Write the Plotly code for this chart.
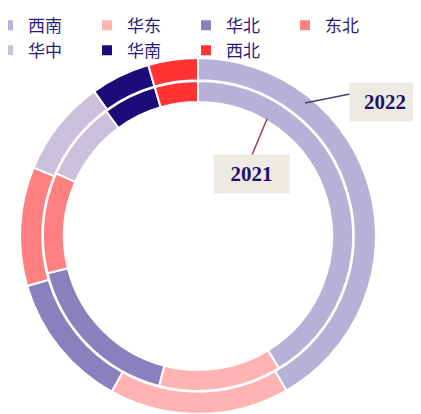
import plotly.graph_objects as go

# The page body adds an 8px margin, so the figure is drawn 8px smaller and
# reference pixel positions are shifted by OFF.
OFF = 8
W, H = 421 - OFF, 414 - OFF

categories = ["西南", "华东", "华北", "东北", "华中", "华南", "西北"]
values_2022 = [41.7, 16.3, 12.4, 10.8, 8.8, 5.4, 4.5]
values_2021 = [41.3, 12.8, 17.1, 10.5, 8.3, 5.6, 4.5]
colors = ["#b7b1d8", "#ffb3b3", "#8a80bd", "#ff8080", "#cac0dc", "#1c0c7a", "#ff3333"]


def px(x):
    return (x - OFF) / W


def py(y):
    return 1 - (y - OFF) / H


cx, cy = 198, 236
r_out, r_in = 178, 155


def dom(r):
    return dict(x=[px(cx - r), px(cx + r)], y=[py(cy + r), min(1, py(cy - r))])


fig = go.Figure()
fig.add_trace(go.Pie(
    labels=categories, values=values_2022, name="2022",
    marker=dict(colors=colors, line=dict(color="white", width=2)),
    hole=0.875, sort=False, direction="clockwise", rotation=0,
    textinfo="none", domain=dom(r_out), showlegend=True,
))
fig.add_trace(go.Pie(
    labels=categories, values=values_2021, name="2021",
    marker=dict(colors=colors, line=dict(color="white", width=2)),
    hole=0.865, sort=False, direction="clockwise", rotation=0,
    textinfo="none", domain=dom(r_in), showlegend=False,
))

fig.add_shape(type="line", xref="paper", yref="paper",
              x0=px(305), y0=py(103), x1=px(350), y1=py(94),
              line=dict(color="#4a3f6b", width=1.5))
fig.add_shape(type="line", xref="paper", yref="paper",
              x0=px(267), y0=py(119), x1=px(252), y1=py(155),
              line=dict(color="#a0404a", width=1.5))

fig.add_annotation(x=px(385), y=py(102), xref="paper", yref="paper",
                   xanchor="center", yanchor="middle",
                   text="<b>2022</b>", showarrow=False, width=68, height=36,
                   bgcolor="#edebe1", borderpad=1,
                   font=dict(family="Liberation Serif", size=21, color="#1f1070"))
fig.add_annotation(x=px(252), y=py(174), xref="paper", yref="paper",
                   xanchor="center", yanchor="middle",
                   text="<b>2021</b>", showarrow=False, width=73, height=36,
                   bgcolor="#edebe1", borderpad=1,
                   font=dict(family="Liberation Serif", size=21, color="#1f1070"))

fig.update_layout(
    width=W, height=H,
    margin=dict(l=0, r=0, t=0, b=0, autoexpand=False),
    paper_bgcolor="white", plot_bgcolor="white",
    legend=dict(orientation="h", x=-20 / W, y=1.001, xanchor="left", yanchor="top",
                entrywidth=54, entrywidthmode="pixels",
                font=dict(family="Noto Sans CJK SC", size=17, color="#2b1b7a"),
                itemwidth=30, tracegroupgap=0, bgcolor="rgba(0,0,0,0)"),
)

fig.write_html("out.html")
